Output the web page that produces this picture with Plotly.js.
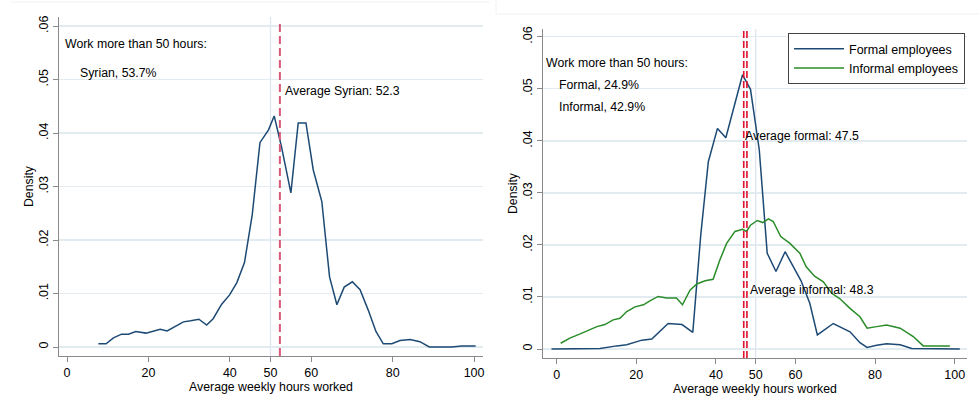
<!DOCTYPE html>
<html>
<head>
<meta charset="utf-8">
<script src="https://cdn.plot.ly/plotly-3.0.1.min.js"></script>
<style>html,body{margin:0;padding:0;background:#fff;}#chart{width:979px;height:396px;}</style>
</head>
<body>
<div id="chart"></div>
<script>
// ---- Data ----
const syrianHours = [7.7, 9.6, 11.4, 13.4, 15.1, 16.9, 19.4, 21.1, 22.9, 24.6, 26.5, 28.6, 30.4, 32.4, 34.3, 35.9, 38.0, 39.9, 41.7, 43.6, 45.5, 47.4, 49.5, 50.9, 52.7, 55.0, 56.8, 58.7, 60.5, 62.6, 64.5, 66.3, 68.1, 70.1, 72.0, 74.0, 75.9, 77.7, 79.8, 81.8, 84.3, 86.7, 89.0, 94.5, 97.0, 100.4];
const syrianDensity = [.0006, .0006, .0017, .0024, .0024, .0029, .0026, .0029, .0033, .0030, .0038, .0047, .0049, .0052, .0041, .0053, .0080, .0097, .0120, .0158, .0247, .0382, .0406, .0432, .0374, .0288, .0419, .0419, .0331, .0272, .0131, .0079, .0112, .0122, .0107, .0069, .0029, .0006, .0006, .0012, .0014, .0010, 0, 0, .0002, .0002];

const formalHours = [-1.3, 4.6, 10.9, 15.1, 17.6, 21.4, 23.9, 28.0, 31.5, 34.2, 36.2, 38.1, 40.4, 42.5, 46.7, 48.7, 50.9, 52.9, 55.1, 57.4, 61.4, 63.6, 65.5, 69.5, 73.7, 76.2, 78.0, 80.4, 82.9, 86.3, 89.2, 101.3];
const formalDensity = [0, 0, .0001, .0006, .0008, .0017, .0019, .0049, .0047, .0032, .0219, .0360, .0424, .0406, .0527, .0499, .0383, .0184, .0149, .0187, .0131, .0088, .0027, .0049, .0033, .0012, .0003, .0007, .0010, .0008, .0001, 0];

const informalHours = [1.0, 3.3, 5.9, 8.4, 10.1, 12.1, 14.2, 15.9, 17.6, 19.7, 21.8, 23.3, 25.5, 27.6, 30.1, 31.6, 33.5, 35.2, 37.3, 39.3, 41.0, 42.7, 44.8, 46.7, 47.7, 48.7, 50.4, 51.8, 53.2, 54.4, 56.3, 58.6, 61.1, 62.7, 64.8, 67.0, 69.1, 71.1, 73.7, 76.2, 78.0, 80.4, 82.9, 86.3, 89.6, 92.1, 98.8];
const informalDensity = [.0011, .0021, .0029, .0037, .0043, .0047, .0056, .0059, .0072, .0081, .0085, .0092, .0101, .0098, .0098, .0085, .0113, .0125, .0131, .0134, .0171, .0203, .0226, .0230, .0226, .0238, .0247, .0243, .0250, .0245, .0216, .0203, .0184, .0158, .0140, .0129, .0107, .0097, .0078, .0062, .0040, .0043, .0046, .0040, .0024, .0006, .0006];

const seriesNames = ["Formal employees", "Informal employees"];
const xTickVals = [0, 20, 40, 50, 60, 80, 100];
const xTickText = ["0", "20", "40", "50", "60", "80", "100"];
const yTickVals = [0, .01, .02, .03, .04, .05, .06];
const yTickText = ["0", ".01", ".02", ".03", ".04", ".05", ".06"];

const avgSyrian = 52.3, avgFormal = 47.5, avgInformal = 48.3, refHours = 50;

// ---- Layout ----
const FONT = "Liberation Sans, Arial, sans-serif";
const leftX = [-1.97, 102.2], leftY = [-0.00168, 0.0617];
const rightX = [-3.44, 103.1], rightY = [-0.00173, 0.0615];
const NAVY = "#1d4a74", GREEN = "#2a8c2a";

function xAxis(domain, range, anchor) {
  return {domain, range, anchor, tickvals: xTickVals, ticktext: xTickText,
    showgrid: false, zeroline: false, showline: true, linecolor: "#8a8a8a", linewidth: 1.3,
    ticks: "outside", ticklen: 5, tickcolor: "#8a8a8a", tickfont: {size: 12.5, color: "#000"},
    title: {text: "Average weekly hours worked", font: {size: 12.3, color: "#000"}, standoff: 2}};
}
function yAxis(domain, range, anchor) {
  return {domain, range, anchor, tickvals: yTickVals, ticktext: yTickText, tickangle: -90,
    showgrid: true, gridcolor: "#e2ebef", gridwidth: 1.3, zeroline: false, showline: true,
    linecolor: "#8a8a8a", linewidth: 1.3, ticks: "outside", ticklen: 5, tickcolor: "#8a8a8a",
    tickfont: {size: 12.5, color: "#000"},
    title: {text: "Density", font: {size: 12.3, color: "#000"}, standoff: 0}};
}

const traces = [
  {x: syrianHours, y: syrianDensity, xaxis: "x", yaxis: "y", mode: "lines", showlegend: false,
   line: {color: NAVY, width: 1.5}, name: "Syrian"},
  {x: formalHours, y: formalDensity, xaxis: "x2", yaxis: "y2", mode: "lines", name: seriesNames[0],
   line: {color: NAVY, width: 1.5}},
  {x: informalHours, y: informalDensity, xaxis: "x2", yaxis: "y2", mode: "lines", name: seriesNames[1],
   line: {color: GREEN, width: 1.5}}
];

function ann(xref, yref, x, y, text) {
  return {xref, yref, x, y, text, showarrow: false, xanchor: "left", yanchor: "middle",
    font: {size: 12.3, color: "#000", family: FONT}};
}

const layout = {
  width: 979, height: 396,
  margin: {l: 0, r: 0, t: 0, b: 0},
  paper_bgcolor: "#fff", plot_bgcolor: "#fff",
  font: {family: FONT, size: 12, color: "#000"},
  xaxis: xAxis([59/979, 483/979], leftX, "y"),
  yaxis: yAxis([1 - 356/396, 1 - 17/396], leftY, "x"),
  xaxis2: xAxis([543/979, 967/979], rightX, "y2"),
  yaxis2: yAxis([1 - 358/396, 1 - 29/396], rightY, "x2"),
  legend: {x: 788/979, y: 1 - 33/396, xanchor: "left", yanchor: "top", bgcolor: "#fff",
    bordercolor: "#444", borderwidth: 1, font: {size: 12.5, color: "#000"}, tracegroupgap: 0,
    itemwidth: 50},
  shapes: [
    {type: "line", xref: "x", yref: "y", x0: refHours, x1: refHours, y0: leftY[0], y1: leftY[1], layer: "below",
     line: {color: "#dfe5ee", width: 1.3}},
    {type: "line", xref: "x", yref: "y", x0: avgSyrian, x1: avgSyrian, y0: leftY[0], y1: 0.0604,
     line: {color: "#d65a78", width: 2, dash: "8px,4px"}},
    {type: "line", xref: "x2", yref: "y2", x0: refHours, x1: refHours, y0: rightY[0], y1: rightY[1], layer: "below",
     line: {color: "#dfe5ee", width: 1.3}},
    {type: "line", xref: "x2", yref: "y2", x0: avgFormal - 0.5, x1: avgFormal - 0.5, y0: rightY[0], y1: rightY[1],
     line: {color: "#e0102e", width: 1.6, dash: "7px,3px"}},
    {type: "line", xref: "x2", yref: "y2", x0: avgInformal - 0.5, x1: avgInformal - 0.5, y0: rightY[0], y1: rightY[1],
     line: {color: "#e0102e", width: 1.6, dash: "7px,3px"}},
    {type: "line", xref: "paper", yref: "paper", x0: 10/979, x1: 490/979, y0: 1 - 2/396, y1: 1 - 2/396,
     line: {color: "#eef2f4", width: 1}},
    {type: "line", xref: "paper", yref: "paper", x0: 496/979, x1: 1, y0: 1 - 14/396, y1: 1 - 14/396,
     line: {color: "#eef2f4", width: 1}},
    {type: "line", xref: "paper", yref: "paper", x0: 496/979, x1: 496/979, y0: 1, y1: 1 - 14/396,
     line: {color: "#eef2f4", width: 1}}
  ],
  annotations: [
    ann("x", "y", -0.9, 0.0566, "Work more than 50 hours:"),
    ann("x", "y", 2.8, 0.0512, "Syrian, 53.7%"),
    ann("x", "y", 53.0, 0.0479, "Average Syrian: 52.3"),
    ann("x2", "y2", -3.1, 0.0550, "Work more than 50 hours:"),
    ann("x2", "y2", 0.1, 0.0508, "Formal, 24.9%"),
    ann("x2", "y2", 0.1, 0.0465, "Informal, 42.9%"),
    ann("x2", "y2", 46.9, 0.0410, "Average formal: 47.5"),
    ann("x2", "y2", 48.1, 0.0113, "Average informal: 48.3")
  ]
};

Plotly.newPlot("chart", traces, layout, {displayModeBar: false, staticPlot: true});
</script>
</body>
</html>
